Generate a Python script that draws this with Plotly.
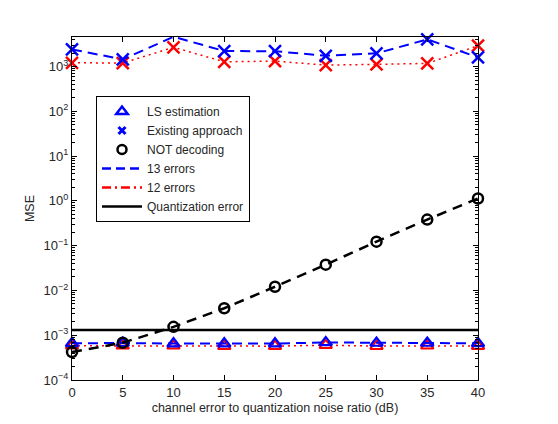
import plotly.graph_objects as go

snr = [0, 5, 10, 15, 20, 25, 30, 35, 40]
existing_13 = [2420, 1445, 4630, 2220, 2200, 1740, 1970, 4050, 1600]
existing_12 = [1215, 1200, 2690, 1277, 1324, 1077, 1117, 1176, 2920]
ls_13 = [6.6e-4, 6.7e-4, 6.5e-4, 6.5e-4, 6.5e-4, 6.9e-4, 6.7e-4, 6.7e-4, 6.6e-4]
ls_12 = [5.8e-4, 5.8e-4, 5.8e-4, 5.7e-4, 5.7e-4, 6.0e-4, 5.7e-4, 5.8e-4, 5.7e-4]
not_decoding = [4.2e-4, 6.8e-4, 1.54e-3, 4.0e-3, 1.21e-2, 3.77e-2, 0.123, 0.383, 1.13]
quant_error = [1.3e-3, 1.3e-3, 1.3e-3, 1.3e-3, 1.3e-3, 1.3e-3, 1.3e-3, 1.3e-3, 1.3e-3]

y_tickvals = [1e-4, 1e-3, 1e-2, 1e-1, 1e0, 1e1, 1e2, 1e3]
y_ticktext = ["10<sup>\u22124</sup>", "10<sup>\u22123</sup>", "10<sup>\u22122</sup>",
              "10<sup>\u22121</sup>", "10<sup>0</sup>", "10<sup>1</sup>",
              "10<sup>2</sup>", "10<sup>3</sup>"]
x_tickvals = [0, 5, 10, 15, 20, 25, 30, 35, 40]

BLUE = "#0000ff"
RED = "#ff0000"
BLACK = "#000000"

fig = go.Figure()

# data traces (no legend)
fig.add_trace(go.Scatter(x=snr, y=existing_12, mode="lines+markers", showlegend=False,
                         line=dict(color=RED, width=1.5, dash="2px,4px"),
                         marker=dict(symbol="x-thin-open", size=12, color=RED, line=dict(color=RED, width=2.5)),
                         cliponaxis=False))
fig.add_trace(go.Scatter(x=snr, y=ls_12, mode="lines+markers", showlegend=False,
                         line=dict(color=RED, width=1.5, dash="2px,4px"),
                         marker=dict(symbol="triangle-up-open", size=11, color=RED, line=dict(color=RED, width=2)),
                         cliponaxis=False))
fig.add_trace(go.Scatter(x=snr, y=existing_13, mode="lines+markers", showlegend=False,
                         line=dict(color=BLUE, width=2, dash="10px,6px"),
                         marker=dict(symbol="x-thin-open", size=12, color=BLUE, line=dict(color=BLUE, width=2.5)),
                         cliponaxis=False))
fig.add_trace(go.Scatter(x=snr, y=ls_13, mode="lines+markers", showlegend=False,
                         line=dict(color=BLUE, width=2, dash="10px,6px"),
                         marker=dict(symbol="triangle-up-open", size=11, color=BLUE, line=dict(color=BLUE, width=2.2)),
                         cliponaxis=False))
fig.add_trace(go.Scatter(x=snr, y=quant_error, mode="lines", showlegend=False,
                         line=dict(color=BLACK, width=2.5)))
fig.add_trace(go.Scatter(x=snr, y=not_decoding, mode="lines+markers", showlegend=False,
                         line=dict(color=BLACK, width=2.5, dash="10px,7px"),
                         marker=dict(symbol="circle-open", size=10, color=BLACK, line=dict(color=BLACK, width=2.5)),
                         cliponaxis=False))

# legend-only entries
fig.add_trace(go.Scatter(x=[None], y=[None], mode="markers", name="LS estimation",
                         marker=dict(symbol="triangle-up-open", size=10, color=BLUE, line=dict(color=BLUE, width=2.5))))
fig.add_trace(go.Scatter(x=[None], y=[None], mode="markers", name="Existing approach",
                         marker=dict(symbol="x-thin-open", size=7, color=BLUE, line=dict(color=BLUE, width=3))))
fig.add_trace(go.Scatter(x=[None], y=[None], mode="markers", name="NOT decoding",
                         marker=dict(symbol="circle-open", size=9, color=BLACK, line=dict(color=BLACK, width=2.5))))
fig.add_trace(go.Scatter(x=[None], y=[None], mode="lines", name="13 errors",
                         line=dict(color=BLUE, width=2.5, dash="9px,5px")))
fig.add_trace(go.Scatter(x=[None], y=[None], mode="lines", name="12 errors",
                         line=dict(color=RED, width=2.5, dash="9px,4px,2px,4px")))
fig.add_trace(go.Scatter(x=[None], y=[None], mode="lines", name="Quantization error",
                         line=dict(color=BLACK, width=2.5)))

# page body has an 8px margin; all positions below are in window pixels
OFF = 8
W, H = 542, 408
L, T = 72 - OFF, 37 - OFF
R = W - (478 - OFF)
B = H - (380 - OFF)
pw, ph = W - L - R, H - T - B

def px_x(p):
    return (p - OFF - L) / pw

def px_y(p):
    return (H - B - (p - OFF)) / ph

fig.update_layout(
    width=W, height=H,
    margin=dict(l=L, r=R, t=T, b=B, pad=0),
    paper_bgcolor="white",
    plot_bgcolor="white",
    font=dict(family="Liberation Sans, Arial, sans-serif", size=12.5, color="#262626"),
    legend=dict(x=px_x(96), y=px_y(96), xanchor="left", yanchor="top",
                bgcolor="white", bordercolor="black", borderwidth=1,
                font=dict(size=12, color="#262626"), itemwidth=40,
                tracegroupgap=0),
    xaxis=dict(range=[0, 40], tickvals=x_tickvals, ticks="inside", ticklen=5,
               tickcolor="black", linecolor="black", linewidth=1.2, mirror="ticks",
               showgrid=False, zeroline=False, showline=True, automargin=False,
               tickfont=dict(size=13, color="#262626"),
               title=dict(text="channel error to quantization noise ratio (dB)",
                          font=dict(size=12.5, color="#262626"), standoff=4)),
    yaxis=dict(type="log", range=[-4, 3.66], tickvals=y_tickvals, ticktext=y_ticktext,
               ticks="inside", ticklen=5, tickcolor="black", linecolor="black",
               linewidth=1.2, mirror="ticks", showgrid=False, zeroline=False, showline=True,
               automargin=False,
               minor=dict(ticks="inside", ticklen=3, tickcolor="black", dtick="D1", showgrid=False),
               tickfont=dict(size=13, color="#262626"),
               title=dict(text="MSE", font=dict(size=12.5, color="#262626"), standoff=6)),
)

fig.write_html("out.html")
